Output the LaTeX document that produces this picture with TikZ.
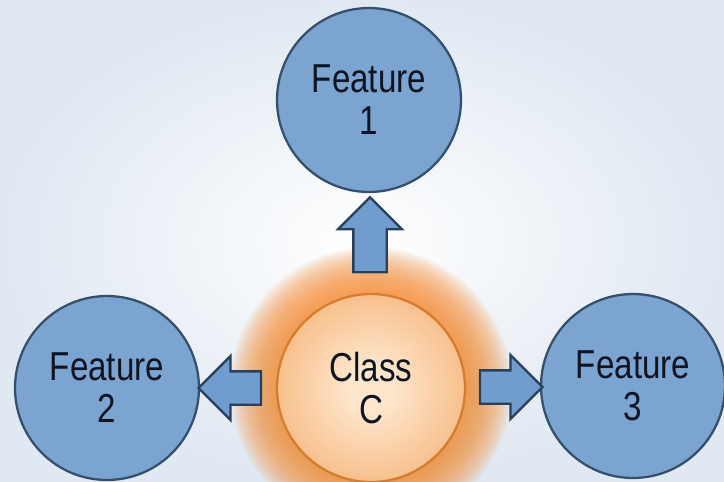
\documentclass[tikz,border=0pt]{standalone}
\usepackage{fontspec}
\setmainfont[FakeStretch=0.82]{Liberation Sans}
\usetikzlibrary{shapes.arrows, calc}
\definecolor{bgblue}{RGB}{224,232,242}
\definecolor{featblue}{RGB}{124,164,208}
\definecolor{featline}{RGB}{52,80,108}
\definecolor{arrowblue}{RGB}{112,157,206}
\definecolor{arrowline}{RGB}{40,64,92}
\definecolor{classin}{RGB}{253,230,204}
\definecolor{classout}{RGB}{243,158,84}
\definecolor{classline}{RGB}{212,124,48}
\definecolor{glow}{RGB}{246,148,64}
\definecolor{ink}{RGB}{14,20,34}
\pgfdeclareradialshading{classfill}{\pgfpointorigin}{color(0bp)=(classin); color(6bp)=(classin); color(42bp)=(classout); color(50bp)=(classout)}
\begin{document}
\begin{tikzpicture}[x=0.02cm, y=-0.02cm,
  feat/.style={circle, draw=featline, line width=1.3pt, fill=featblue, minimum size=3.68cm, inner sep=0pt, align=center, text=ink, font=\fontsize{23}{24}\selectfont},
  fat/.style={single arrow, draw=arrowline, line width=1.3pt, fill=arrowblue, inner xsep=0pt, inner ysep=0.31cm, single arrow head extend=0.31cm, minimum height=1.25cm}]
\useasboundingbox (0,0) rectangle (724,481);
\clip (0,0) rectangle (724,481);
\shade[inner color=white, outer color=bgblue] (0,0) rectangle (724,481);
\coordinate (mid) at (371,388);
\foreach \i in {1,...,24}{
\fill[glow, opacity=0.08] (mid) circle ({1.86cm+\i*0.04cm});
}
\node[feat, shading=classfill, draw=classline, minimum size=3.76cm] (cls) at (mid) {Class\\C};
\foreach \n/\x/\y in {1/369/100, 2/107/388, 3/633/386}{
\node[feat] (f\n) at (\x,\y) {Feature\\\n};
}
\node[fat, rotate=90, minimum height=1.5cm] (a1) at ($(f1.south)!0.5!(cls.north)$) {};
\node[fat, rotate=180] (a2) at ($(f2.east)!0.5!(cls.west)$) {};
\node[fat] (a3) at ($(cls.east)!0.5!(f3.west)$) {};
\end{tikzpicture}
\end{document}
